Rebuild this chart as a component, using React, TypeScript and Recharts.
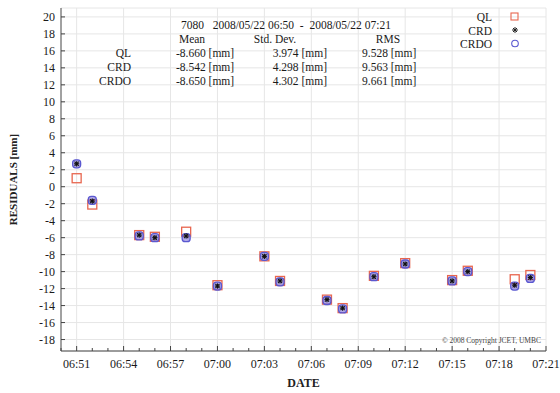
import React from "react";
import {
  ScatterChart,
  Scatter,
  XAxis,
  YAxis,
  CartesianGrid,
  ReferenceLine,
} from "recharts";

const times = [
  "06:51", "06:52", "06:55", "06:56", "06:58", "07:00", "07:03", "07:04",
  "07:07", "07:08", "07:10", "07:12", "07:15", "07:16", "07:19", "07:20",
];
const qlValues = [1.0, -2.1, -5.7, -5.9, -5.3, -11.6, -8.2, -11.1, -13.3, -14.3, -10.5, -9.0, -11.0, -9.9, -10.9, -10.4];
const crdValues = [2.7, -1.7, -5.7, -6.0, -5.8, -11.7, -8.2, -11.1, -13.3, -14.3, -10.6, -9.1, -11.1, -10.0, -11.6, -10.7];
const crdoValues = [2.7, -1.6, -5.8, -6.0, -6.0, -11.7, -8.2, -11.2, -13.4, -14.4, -10.6, -9.1, -11.1, -10.0, -11.7, -10.8];

const startTime = "06:50";
const endTime = "07:21";
const xTickLabels = ["06:51", "06:54", "06:57", "07:00", "07:03", "07:06", "07:09", "07:12", "07:15", "07:18", "07:21"];
const yTicks = [-18, -16, -14, -12, -10, -8, -6, -4, -2, 0, 2, 4, 6, 8, 10, 12, 14, 16, 18, 20];
const yDomain = [-19.35, 21.05];

const statsTitle = "7080   2008/05/22 06:50  -  2008/05/22 07:21";
const statsNames = ["QL", "CRD", "CRDO"];
const statsMean = ["-8.660 [mm]", "-8.542 [mm]", "-8.650 [mm]"];
const statsStd = ["3.974 [mm]", "4.298 [mm]", "4.302 [mm]"];
const statsRms = ["9.528 [mm]", "9.563 [mm]", "9.661 [mm]"];

const toMin = (t: string) => {
  const [h, m] = t.split(":").map(Number);
  const [h0, m0] = startTime.split(":").map(Number);
  return h * 60 + m - (h0 * 60 + m0);
};
const xMax = toMin(endTime);
const allMinutes = Array.from({ length: xMax + 1 }, (_, i) => i);
const majorMinutes = xTickLabels.map(toMin);

const mk = (vals: number[]) => times.map((t, i) => ({ x: toMin(t), y: vals[i] }));
const qlData = mk(qlValues);
const crdData = mk(crdValues);
const crdoData = mk(crdoValues);

const fmt = (v: number) => {
  const [h0, m0] = startTime.split(":").map(Number);
  const tot = h0 * 60 + m0 + v;
  const h = Math.floor(tot / 60);
  const m = tot % 60;
  return `${String(h).padStart(2, "0")}:${String(m).padStart(2, "0")}`;
};

const FONT = "'Liberation Serif', 'Times New Roman', serif";
const RED = "#e8664f";
const BLUE = "#5a58d0";
const TXT = "#1a1a1a";

const SquareShape = (p: any) => (
  <rect x={p.cx - 4.5} y={p.cy - 4.5} width={9} height={9} fill="none" stroke={RED} strokeWidth={1.3} />
);
const CircleShape = (p: any) => (
  <rect x={p.cx - 4} y={p.cy - 4} width={8} height={8} rx={3} fill="rgba(125,110,215,0.6)" stroke={BLUE} strokeWidth={1.3} />
);
const StarShape = (p: any) => {
  const s = 2.6;
  return (
    <g stroke="#111" strokeWidth={1.1}>
      <line x1={p.cx - s} y1={p.cy} x2={p.cx + s} y2={p.cy} />
      <line x1={p.cx} y1={p.cy - s} x2={p.cx} y2={p.cy + s} />
      <line x1={p.cx - s * 0.8} y1={p.cy - s * 0.8} x2={p.cx + s * 0.8} y2={p.cy + s * 0.8} />
      <line x1={p.cx - s * 0.8} y1={p.cy + s * 0.8} x2={p.cx + s * 0.8} y2={p.cy - s * 0.8} />
    </g>
  );
};

const BottomTick = (p: any) => {
  const v = p.payload.value;
  const major = majorMinutes.includes(v);
  return (
    <g>
      <line x1={p.x} y1={p.y} x2={p.x} y2={p.y - (major ? 5 : 3)} stroke="#444" />
      {major && (
        <text x={p.x} y={p.y + 17} textAnchor="middle" fontSize={12} fontFamily={FONT} fill={TXT}>
          {fmt(v)}
        </text>
      )}
    </g>
  );
};
const TopTick = (p: any) => {
  const v = p.payload.value;
  const major = majorMinutes.includes(v);
  return <line x1={p.x} y1={p.y} x2={p.x} y2={p.y + (major ? 5 : 3)} stroke="#444" />;
};
const LeftTick = (p: any) => (
  <g>
    <line x1={p.x + 6} y1={p.y} x2={p.x + 10} y2={p.y} stroke="#444" />
    <text x={p.x} y={p.y + 4} textAnchor="end" fontSize={12} fontFamily={FONT} fill={TXT}>
      {p.payload.value}
    </text>
  </g>
);
const RightTick = (p: any) => <line x1={p.x} y1={p.y} x2={p.x - 4} y2={p.y} stroke="#444" />;

export default function App() {
  return (
    <div style={{ position: "absolute", left: 0, top: 0, width: 560, height: 393, background: "#fff" }}>
      <ScatterChart width={560} height={393} margin={{ top: 8, right: 14, bottom: 0, left: 0 }}>
        <CartesianGrid vertical={false} stroke="#e6e6e6" />
        {majorMinutes.map((m) => (
          <ReferenceLine key={m} x={m} stroke="#e6e6e6" />
        ))}
        <XAxis
          type="number"
          dataKey="x"
          domain={[0, xMax]}
          ticks={allMinutes}
          interval={0}
          allowDataOverflow
          height={42}
          tickSize={0}
          tickMargin={0}
          tickLine={false}
          axisLine={{ stroke: "#444" }}
          tick={<BottomTick />}
          label={{ value: "DATE", position: "insideBottom", offset: 6, fontSize: 12, fontWeight: "bold", fontFamily: FONT, fill: "#222" }}
        />
        <XAxis
          xAxisId="top"
          orientation="top"
          type="number"
          domain={[0, xMax]}
          ticks={allMinutes}
          interval={0}
          allowDataOverflow
          height={0}
          tickSize={0}
          tickMargin={0}
          tickLine={false}
          axisLine={{ stroke: "#444" }}
          tick={<TopTick />}
        />
        <YAxis
          type="number"
          dataKey="y"
          domain={yDomain}
          ticks={yTicks}
          interval={0}
          allowDataOverflow
          width={61}
          tickSize={0}
          tickMargin={6}
          tickLine={false}
          axisLine={{ stroke: "#444" }}
          tick={<LeftTick />}
          label={{
            value: "RESIDUALS [mm]",
            angle: -90,
            position: "insideLeft",
            offset: 13,
            style: { textAnchor: "middle" },
            fontSize: 11,
            fontWeight: "bold",
            fontFamily: FONT,
            fill: "#222",
          }}
        />
        <YAxis
          yAxisId="right"
          orientation="right"
          type="number"
          domain={yDomain}
          ticks={yTicks}
          interval={0}
          allowDataOverflow
          width={0}
          tickSize={0}
          tickMargin={0}
          tickLine={false}
          axisLine={{ stroke: "#444" }}
          tick={<RightTick />}
        />
        <Scatter name="QL" data={qlData} shape={<SquareShape />} isAnimationActive={false} />
        <Scatter name="CRDO" data={crdoData} shape={<CircleShape />} isAnimationActive={false} />
        <Scatter name="CRD" data={crdData} shape={<StarShape />} isAnimationActive={false} />
      </ScatterChart>
      <svg
        width={560}
        height={393}
        style={{ position: "absolute", left: 0, top: 0, pointerEvents: "none" }}
        fontFamily={FONT}
        fill={TXT}
      >
        <text x={181} y={29} fontSize={11.5} style={{ whiteSpace: "pre" }}>{statsTitle}</text>
        <text x={192} y={43} fontSize={11.5} textAnchor="middle">Mean</text>
        <text x={275} y={43} fontSize={11.5} textAnchor="middle">Std. Dev.</text>
        <text x={388} y={43} fontSize={11.5} textAnchor="middle">RMS</text>
        {statsNames.map((n, i) => (
          <g key={n}>
            <text x={131} y={57 + i * 14} fontSize={11.5} textAnchor="end">{n}</text>
            <text x={176} y={57 + i * 14} fontSize={11.5}>{statsMean[i]}</text>
            <text x={327} y={57 + i * 14} fontSize={11.5} textAnchor="end">{statsStd[i]}</text>
            <text x={362} y={57 + i * 14} fontSize={11.5}>{statsRms[i]}</text>
          </g>
        ))}
        {statsNames.map((n, i) => (
          <text key={"lg" + n} x={492} y={21 + i * 13.5} fontSize={11.5} textAnchor="end">{n}</text>
        ))}
        <rect x={511} y={13} width={7} height={7} fill="none" stroke={RED} strokeWidth={1.1} />
        <g stroke="#222" strokeWidth={1}>
          <line x1={512} y1={30} x2={518} y2={30} />
          <line x1={515} y1={27} x2={515} y2={33} />
          <line x1={513} y1={28} x2={517} y2={32} />
          <line x1={513} y1={32} x2={517} y2={28} />
        </g>
        <circle cx={515} cy={43.5} r={3.3} fill="none" stroke={BLUE} strokeWidth={1.1} />
        <text x={541} y={343} fontSize={7.5} textAnchor="end" fill="#444">©  2008 Copyright JCET, UMBC</text>
      </svg>
    </div>
  );
}
